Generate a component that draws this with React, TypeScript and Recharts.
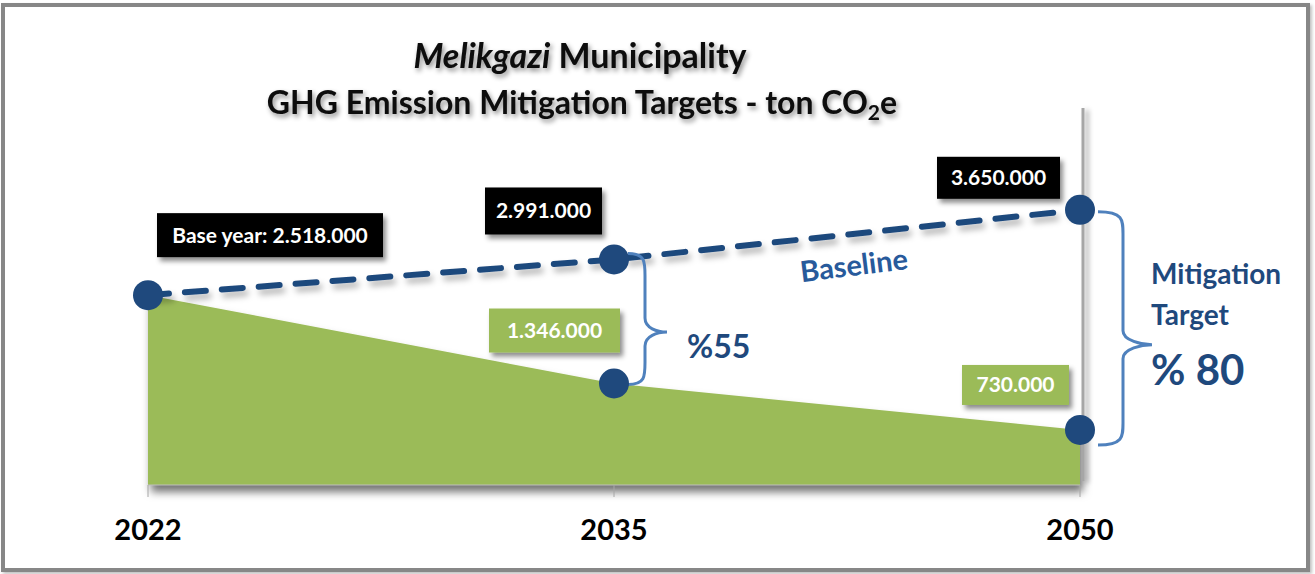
import { Area, ComposedChart, LabelList, Line, ReferenceLine, XAxis, YAxis } from 'recharts'

const years = ['2022', '2035', '2050']
const baselineValues = [2518000, 2991000, 3650000]
const targetValues = [2518000, 1346000, 730000]
const yDomain = [0, 5000000]

const data = years.map((year, i) => ({
  year,
  baseline: baselineValues[i],
  target: targetValues[i],
}))

const BLUE = '#1F497D'
const GREEN = '#9BBB59'
const BRACE = '#4F81BD'
const FONT = 'Lato, "Open Sans", sans-serif'

const fmt = (v: number) => String(v).replace(/\B(?=(\d{3})+(?!\d))/g, '.')
const reduction = (i: number) => Math.round((1 - targetValues[i] / baselineValues[i]) * 100)

// label boxes, placed relative to their point
const baselineBoxes = [
  { dx: 9, dy: -82, w: 226, h: 44, prefix: 'Base year: ' },
  { dx: -129, dy: -72, w: 117, h: 47, prefix: '' },
  { dx: -143, dy: -53, w: 123, h: 42, prefix: '' },
]
const targetBoxes = [
  null,
  { dx: -125, dy: -75, w: 131, h: 44 },
  { dx: -118, dy: -65, w: 107, h: 40 },
]

function Box({ x, y, w, h, fill, text }: any) {
  return (
    <g>
      <rect x={x} y={y} width={w} height={h} fill={fill} filter="url(#boxShadow)" />
      <text
        x={x + w / 2}
        y={y + h / 2 + 7.5}
        textAnchor="middle"
        fill="#fff"
        fontFamily={FONT}
        fontWeight={700}
        fontSize={21}
      >
        {text}
      </text>
    </g>
  )
}

function bracePath(x: number, top: number, bottom: number, bulge: number, reach: number, ratio: number) {
  const tipY = top + (bottom - top) * ratio
  const bx = x + bulge
  return {
    tipX: x + reach,
    tipY,
    d: [
      `M ${x} ${top}`,
      `C ${bx} ${top} ${bx} ${top + 8} ${bx} ${top + 22}`,
      `L ${bx} ${tipY - 14}`,
      `C ${bx} ${tipY - 4} ${x + reach - 10} ${tipY} ${x + reach} ${tipY}`,
      `C ${x + reach - 10} ${tipY} ${bx} ${tipY + 4} ${bx} ${tipY + 14}`,
      `L ${bx} ${bottom - 22}`,
      `C ${bx} ${bottom - 8} ${bx} ${bottom} ${x} ${bottom}`,
    ].join(' '),
  }
}

function Brace2035(p: any) {
  const b = bracePath(p.x1 + 14, p.y1 - 6, p.y2 + 1, 17, 39, 0.6)
  return (
    <g>
      <path d={b.d} fill="none" stroke={BRACE} strokeWidth={3} />
      <text x={b.tipX + 20} y={b.tipY + 26} fill={BLUE} fontFamily={FONT} fontWeight={700} fontSize={32}>
        %{reduction(1)}
      </text>
    </g>
  )
}

function Brace2050(p: any) {
  const b = bracePath(p.x1 + 18, p.y1 + 2, p.y2 + 15, 25, 54, 0.57)
  return (
    <g fontFamily={FONT} fontWeight={700} fill={BLUE}>
      <path d={b.d} fill="none" stroke={BRACE} strokeWidth={3} />
      <text x={b.tipX - 1} y={b.tipY - 61} fontSize={28}>Mitigation</text>
      <text x={b.tipX - 1} y={b.tipY - 20} fontSize={28}>Target</text>
      <text x={b.tipX - 1} y={b.tipY + 40} fontSize={42}>% {reduction(2)}</text>
    </g>
  )
}

function BaselineTag(p: any) {
  const mx = (p.x1 + p.x2) / 2
  const my = (p.y1 + p.y2) / 2
  const cx = mx + 7
  const cy = my + 31
  return (
    <text
      x={cx}
      y={cy + 10}
      textAnchor="middle"
      transform={`rotate(-7 ${cx} ${cy})`}
      fill="#285A9B"
      fontFamily={FONT}
      fontWeight={700}
      fontSize={29}
    >
      Baseline
    </text>
  )
}

function GridLine2050(p: any) {
  return (
    <line
      x1={p.x1 + 3}
      x2={p.x2 + 3}
      y1={p.y1 - 4}
      y2={p.y2}
      stroke="#a6a6a6"
      strokeWidth={3}
      filter="url(#vShadow)"
    />
  )
}

export default function App() {
  return (
    <div style={{ position: 'absolute', left: 0, top: 0, width: 1315, height: 574, background: '#fff' }}>
      <ComposedChart
        width={1315}
        height={574}
        data={data}
        margin={{ top: 108, right: 235, bottom: 29, left: 148 }}
      >
        <defs>
          <filter id="boxShadow" x="-20%" y="-30%" width="140%" height="170%">
            <feDropShadow dx="3" dy="4" stdDeviation="2.5" floodColor="#000" floodOpacity="0.45" />
          </filter>
          <filter id="lineShadow" x="-20%" y="-30%" width="140%" height="180%">
            <feDropShadow dx="3" dy="5" stdDeviation="3" floodColor="#000" floodOpacity="0.3" />
          </filter>
          <filter id="vShadow" filterUnits="userSpaceOnUse" x="1000" y="0" width="200" height="574">
            <feDropShadow dx="4" dy="2" stdDeviation="2.5" floodColor="#000" floodOpacity="0.35" />
          </filter>
          <filter id="areaShadow" x="-5%" y="-10%" width="110%" height="130%">
            <feDropShadow dx="3" dy="7" stdDeviation="4" floodColor="#000" floodOpacity="0.55" />
          </filter>
        </defs>
        <XAxis
          dataKey="year"
          interval={0}
          height={60}
          tickSize={12}
          tickMargin={22}
          axisLine={{ stroke: '#bfbfbf' }}
          tickLine={{ stroke: '#a6a6a6' }}
          tick={{ fontSize: 29, fontWeight: 700, fill: '#000', fontFamily: FONT }}
        />
        <YAxis hide width={0} domain={yDomain} />
        <ReferenceLine x="2050" shape={GridLine2050} />
        <Area
          dataKey="target"
          type="linear"
          fill={GREEN}
          fillOpacity={1}
          stroke="none"
          filter="url(#areaShadow)"
          isAnimationActive={false}
          dot={(p: any) =>
            p.index === 0 ? (
              <g key={`td-${p.index}`} />
            ) : (
              <circle key={`td-${p.index}`} cx={p.cx} cy={p.cy} r={15} fill={BLUE} />
            )
          }
          activeDot={false}
        >
          <LabelList
            dataKey="target"
            content={(p: any) => {
              const b = targetBoxes[p.index]
              if (!b) return null
              return (
                <Box
                  key={`tl-${p.index}`}
                  x={p.x + b.dx}
                  y={p.y + b.dy}
                  w={b.w}
                  h={b.h}
                  fill={GREEN}
                  text={fmt(Number(p.value))}
                />
              )
            }}
          />
        </Area>
        <Line
          dataKey="baseline"
          type="linear"
          stroke={BLUE}
          strokeWidth={6}
          strokeDasharray="21 16"
          strokeLinecap="round"
          filter="url(#lineShadow)"
          isAnimationActive={false}
          dot={(p: any) => <circle key={`bd-${p.index}`} cx={p.cx} cy={p.cy} r={15} fill={BLUE} strokeDasharray="" />}
          activeDot={false}
        >
          <LabelList
            dataKey="baseline"
            content={(p: any) => {
              const b = baselineBoxes[p.index]
              return (
                <Box
                  key={`bl-${p.index}`}
                  x={p.x + b.dx}
                  y={p.y + b.dy}
                  w={b.w}
                  h={b.h}
                  fill="#000"
                  text={b.prefix + fmt(Number(p.value))}
                />
              )
            }}
          />
        </Line>
        <ReferenceLine
          segment={[
            { x: years[1], y: baselineValues[1] },
            { x: years[2], y: baselineValues[2] },
          ]}
          shape={BaselineTag}
        />
        <ReferenceLine
          segment={[
            { x: years[1], y: baselineValues[1] },
            { x: years[1], y: targetValues[1] },
          ]}
          shape={Brace2035}
        />
        <ReferenceLine
          segment={[
            { x: years[2], y: baselineValues[2] },
            { x: years[2], y: targetValues[2] },
          ]}
          shape={Brace2050}
        />
      </ComposedChart>

      <svg
        width={1315}
        height={130}
        style={{ position: 'absolute', left: 0, top: 0, pointerEvents: 'none' }}
      >
        <defs>
          <filter id="titleShadow" x="-10%" y="-40%" width="120%" height="180%">
            <feDropShadow dx="2" dy="3" stdDeviation="2.5" floodColor="#000" floodOpacity="0.45" />
          </filter>
        </defs>
        <g fontFamily={FONT} fontWeight={700} fill="#0a0a0a" textAnchor="middle" filter="url(#titleShadow)">
          <text x={580} y={68} fontSize={34}>
            <tspan fontStyle="italic">Melikgazi</tspan> Municipality
          </text>
          <text x={582} y={114} fontSize={32}>
            GHG Emission Mitigation Targets - ton CO
            <tspan fontSize={21} dy={6}>2</tspan>
            <tspan dy={-6}>e</tspan>
          </text>
        </g>
      </svg>

      <div
        style={{
          position: 'absolute',
          left: 1,
          top: 3,
          width: 1309,
          height: 569,
          boxSizing: 'border-box',
          border: '4px solid #878787',
          boxShadow: '2px 2px 3px rgba(0,0,0,0.25)',
          pointerEvents: 'none',
        }}
      />
    </div>
  )
}
